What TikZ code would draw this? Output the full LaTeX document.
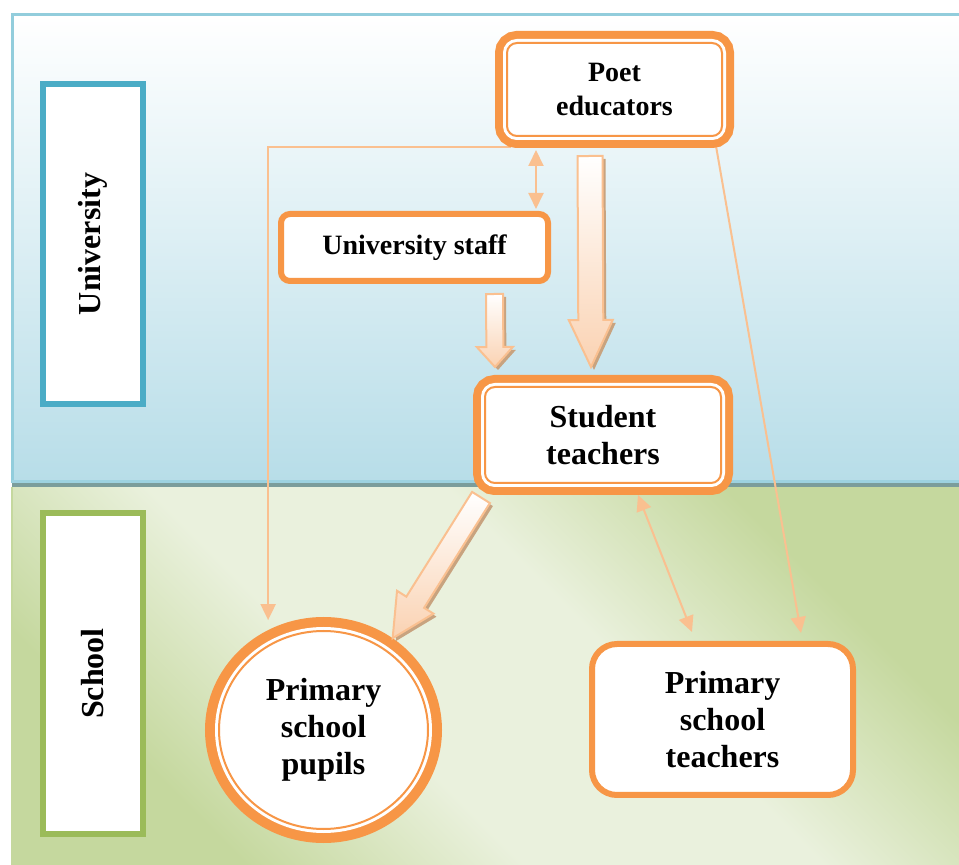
\documentclass[tikz,border=0pt]{standalone}
\usepackage{fontspec}
\setmainfont{Liberation Serif}
\usetikzlibrary{shapes.geometric, calc, arrows.meta, shadows}

\pgfdeclarelayer{bg}
\pgfdeclarelayer{links}
\pgfsetlayers{bg,links,main}

\definecolor{boxorange}{HTML}{F79646}
\definecolor{linkorange}{HTML}{FAC090}
\definecolor{arrowpeach}{HTML}{FAD2B2}
\definecolor{arrowshadow}{HTML}{C8A37F}
\definecolor{uniteal}{HTML}{4BACC6}
\definecolor{schoolgreen}{HTML}{9BBB59}
\definecolor{univblue}{HTML}{B7DDE8}
\definecolor{frameblue}{HTML}{92CDDC}
\definecolor{sepgray}{HTML}{7B9D9B}
\definecolor{schooldark}{HTML}{C5D89E}
\definecolor{schoollight}{HTML}{EAF1DD}

\pgfdeclarehorizontalshading{schoolshade}{100bp}{color(0bp)=(schooldark); color(27bp)=(schooldark);
    color(42bp)=(schoollight); color(58bp)=(schoollight); color(73bp)=(schooldark); color(100bp)=(schooldark)}

\tikzset{
    labelbox/.style={draw, rectangle, fill=white, line width=3pt, rotate=90, minimum width=160pt, minimum height=50pt, inner sep=0pt, font=\bfseries\fontsize{16}{19}\selectfont},
    dblbox/.style={rectangle, rounded corners=5pt, fill=white, draw=boxorange, line width=1pt, inner sep=0pt, outer sep=6pt, align=center,
        preaction={draw=boxorange, line width=12pt}, preaction={draw=white, line width=4pt}},
    dblcircle/.style={ellipse, fill=white, draw=boxorange, line width=1pt, inner sep=0pt, outer sep=7pt, align=center,
        preaction={draw=boxorange, line width=14pt}, preaction={draw=white, line width=4pt}},
    singlebox/.style={rectangle, rounded corners=4.5pt, fill=white, draw=boxorange, line width=3pt, inner sep=0pt, align=center},
    thinlink/.style={draw=linkorange, line width=1pt, -{Triangle[length=8pt,width=7.5pt]}},
    dbllink/.style={thinlink, {Triangle[length=8pt,width=7.5pt]}-{Triangle[length=8pt,width=7.5pt]}},
    fatarrow/.style={draw=linkorange, line width=1pt, top color=white, bottom color=arrowpeach,
        drop shadow={shadow xshift=1.5pt, shadow yshift=-1.5pt, fill=arrowshadow, opacity=1}}
}

% block arrow: tail, tip, half shaft, half head, head length
\newcommand{\fatarrow}[5]{%
    \coordinate (fa-h) at ($(#2)!#5!(#1)$);
    \path[fatarrow] ($(#1)!#3!90:(#2)$) -- ($(fa-h)!#3!90:(#2)$) -- ($(fa-h)!#4!90:(#2)$) -- (#2)
        -- ($(fa-h)!#4!-90:(#2)$) -- ($(fa-h)!#3!-90:(#2)$) -- ($(#1)!#3!-90:(#2)$) -- cycle;}

\begin{document}
\begin{tikzpicture}[x=0.5pt, y=-0.5pt]
    \useasboundingbox (0,0) rectangle (959,865);

    % Backgrounds
    \begin{pgfonlayer}{bg}
        \shade[top color=white, bottom color=univblue] (12,15) rectangle (959,483);
        \shade[shading=schoolshade, shading angle=45] (12,487) rectangle (959,865);
        \draw[frameblue, line width=1.5pt] (12,483) -- (12,15) -- (959,15);
        \draw[schooldark, line width=1pt] (12,487) -- (12,865);
        \draw[frameblue!70!univblue, line width=1.5pt] (12,481.5) -- (959,481.5);
        \draw[sepgray, line width=2pt] (12,485) -- (959,485);
    \end{pgfonlayer}

    % University
    \node[labelbox, draw=uniteal] (univ) at (93,244) {University};

    % School
    \node[labelbox, draw=schoolgreen] (school) at (93,673.5) {School};

    % Poet educators
    \node[dblbox, minimum width=107.5pt, minimum height=46.5pt, font=\bfseries\fontsize{14}{17}\selectfont] (poet) at (614.5,89.5) {Poet\\educators};

    % University staff
    \node[singlebox, minimum width=133.5pt, minimum height=33.5pt, font=\bfseries\fontsize{14}{17}\selectfont] (staff) at (414.5,247.5) {University staff};

    % Student teachers
    \node[dblbox, minimum width=118pt, minimum height=48pt, font=\bfseries\fontsize{16}{18.5}\selectfont] (student) at (603,435) {Student\\teachers};

    % Primary school pupils
    \node[dblcircle, minimum width=104.5pt, minimum height=99pt, font=\bfseries\fontsize{16}{18.5}\selectfont] (pupils) at (323.5,730) {Primary\\school\\pupils};

    % Primary school teachers
    \node[singlebox, rounded corners=12.5pt, minimum width=130.5pt, minimum height=75.5pt, font=\bfseries\fontsize{16}{18.5}\selectfont] (teachers) at (722.5,719.5) {Primary\\school\\teachers};

    % Thin links
    \begin{pgfonlayer}{links}
        \draw[thinlink, shorten >=5pt] ([xshift=8pt,yshift=0.5pt]poet.south west) -| (pupils.119);
        \coordinate (ps-x) at ([xshift=60.75pt]staff.north);
        \draw[dbllink, shorten <=1pt, shorten >=1pt] (ps-x |- poet.south) -- (ps-x);
        \draw[thinlink] ([xshift=-9pt,yshift=1pt]poet.south east) -- ([xshift=39.25pt,yshift=4pt]teachers.north);
        \draw[dbllink] ([xshift=17.5pt]student.south) -- ([xshift=-15.25pt,yshift=4.5pt]teachers.north);
    \end{pgfonlayer}

    % Block arrows
    \coordinate (pe-tail) at ([xshift=-12.25pt,yshift=-4pt]poet.south);
    \coordinate (pe-tip) at ([xshift=-6pt,yshift=4pt]student.north);
    \fatarrow{pe-tail}{pe-tip}{6.25pt}{11pt}{23.5pt}

    \coordinate (us-tail) at ([xshift=40pt,yshift=-5pt]staff.south);
    \coordinate (us-tip) at ([xshift=-54pt,yshift=4pt]student.north);
    \fatarrow{us-tail}{us-tip}{4.25pt}{9pt}{10pt}

    \coordinate (st-tail) at ([xshift=4pt,yshift=-1.25pt]student.south west);
    \coordinate (st-tip) at (pupils.53);
    \fatarrow{st-tail}{st-tip}{5.25pt}{10.75pt}{21.25pt}
\end{tikzpicture}
\end{document}
